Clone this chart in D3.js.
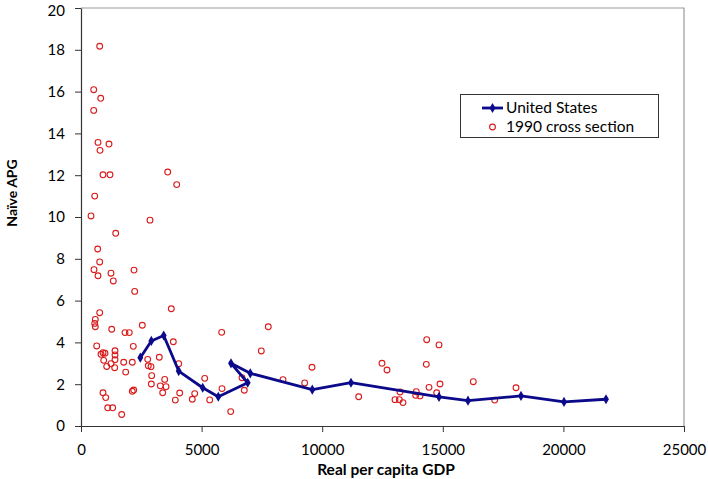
<!DOCTYPE html>
<html><head><meta charset="utf-8">
<script src="https://cdnjs.cloudflare.com/ajax/libs/d3/7.8.5/d3.min.js"></script>
<style>
html,body{margin:0;padding:0;background:#fff;}
text{font-family:Lato,"Open Sans",sans-serif;}
</style></head>
<body><svg id="chart" width="708" height="479"></svg>
<script>
// United States series (Real per capita GDP, Naive APG)
const usGDP = [2459, 2915, 3429, 4051, 5046, 5692, 6911, 6219, 7019, 9590, 11194, 14842, 16045, 18242, 20025, 21766];
const usAPG = [3.27, 4.07, 4.33, 2.63, 1.83, 1.40, 2.07, 3.00, 2.52, 1.74, 2.07, 1.39, 1.21, 1.44, 1.15, 1.28];

// 1990 cross section
const csGDP = [775, 527, 817, 527, 705, 1161, 788, 912, 1202, 3595, 3968, 568, 415, 2861, 1439, 692, 775, 539, 1244, 2197,
  705, 1339, 2226, 3744, 775, 593, 568, 593, 1273, 2541, 1824, 2002, 3827, 651, 2168, 829, 912, 995, 1410, 1410,
  941, 1410, 1244, 1066, 1397, 1770, 2127, 1853, 3246, 2765, 2790, 2902, 2931, 4051, 2915, 3470, 3524, 3288, 3387, 2127,
  2185, 912, 1024, 1107, 1314, 1687, 4092, 3910, 4614, 4714, 5129, 5336, 5833, 7765, 7475, 5846, 6206, 6675, 6770, 8375,
  9274, 9577, 12479, 12687, 14333, 14842, 14316, 14884, 14428, 14747, 13901, 13876, 14055, 13226, 13018, 13197, 13350, 11513, 16264, 17152,
  18035];
const csAPG = [18.17, 16.09, 15.68, 15.10, 13.57, 13.49, 13.19, 12.02, 12.02, 12.15, 11.55, 11.00, 10.05, 9.85, 9.22, 8.47, 7.85, 7.48, 7.31, 7.46,
  7.19, 6.94, 6.44, 5.61, 5.42, 5.10, 4.91, 4.75, 4.63, 4.82, 4.47, 4.47, 4.03, 3.83, 3.81, 3.43, 3.51, 3.48, 3.60, 3.40,
  3.14, 3.17, 2.98, 2.85, 2.79, 3.05, 3.05, 2.58, 3.29, 3.19, 2.88, 2.84, 2.41, 2.98, 2.01, 2.23, 1.88, 1.92, 1.59, 1.66,
  1.72, 1.59, 1.36, 0.87, 0.87, 0.55, 1.58, 1.24, 1.28, 1.55, 2.28, 1.25, 4.48, 4.75, 3.59, 1.79, 0.69, 2.31, 1.71, 2.22,
  2.06, 2.81, 3.00, 2.68, 4.13, 3.88, 2.95, 2.01, 1.85, 1.59, 1.64, 1.47, 1.44, 1.63, 1.26, 1.26, 1.12, 1.40, 2.12, 1.24,
  1.83];

const xTicks = [0, 5000, 10000, 15000, 20000, 25000];
const yTicks = [0, 2, 4, 6, 8, 10, 12, 14, 16, 18, 20];
const seriesNames = ["United States", "1990 cross section"];
const xTitle = "Real per capita GDP";
const yTitle = "Naïve APG";

const svg = d3.select("#chart");
const L = 81, R = 684, T = 8, B = 426;
const x = d3.scaleLinear().domain([0, 25000]).range([L, R]);
const y = d3.scaleLinear().domain([0, 20]).range([B, T]);

// plot frame (top & right)
svg.append("path").attr("d", `M${L},${T}H${R}V${B}`).attr("fill", "none").attr("stroke", "#9a9a9a").attr("stroke-width", 1.2);

const xAxis = svg.append("g").attr("transform", `translate(0,${B})`)
  .call(d3.axisBottom(x).tickValues(xTicks).tickFormat(d3.format("d")).tickSizeInner(6).tickSizeOuter(0).tickPadding(12));
const yAxis = svg.append("g").attr("transform", `translate(${L},0)`)
  .call(d3.axisLeft(y).tickValues(yTicks).tickFormat(d3.format("d")).tickSizeInner(6).tickSizeOuter(0).tickPadding(10));
[xAxis, yAxis].forEach(a => {
  a.select(".domain").attr("stroke", "#333").attr("stroke-width", 1.2);
  a.selectAll(".tick line").attr("stroke", "#333");
  a.selectAll("text").attr("font-size", 15).attr("fill", "#000").attr("font-family", "Lato, sans-serif");
});
yAxis.selectAll(".tick text").filter(d => d === 20).attr("dy", "0.38em").attr("y", 1.5);

// axis titles
svg.append("text").attr("x", 386).attr("y", 475).attr("text-anchor", "middle")
  .attr("font-size", 15.5).attr("font-weight", "bold").text(xTitle);
svg.append("text").attr("transform", `translate(17,193) rotate(-90)`).attr("text-anchor", "middle")
  .attr("font-size", 14).attr("font-weight", "bold").text(yTitle);

// scatter
const cs = csGDP.map((g, i) => ({g, a: csAPG[i]}));
svg.append("g").selectAll("circle").data(cs).join("circle")
  .attr("cx", d => x(d.g)).attr("cy", d => y(d.a)).attr("r", 2.9)
  .attr("fill", "none").attr("stroke", "#d91c1c").attr("stroke-width", 1.1);

// US line
const us = usGDP.map((g, i) => ({g, a: usAPG[i]}));
const navy = "#0a0a8a";
svg.append("path").datum(us)
  .attr("d", d3.line().x(d => x(d.g)).y(d => y(d.a)))
  .attr("fill", "none").attr("stroke", navy).attr("stroke-width", 2.8).attr("stroke-linejoin", "round");
const diamond = d3.symbol().type(d3.symbolDiamond).size(30);
svg.append("g").selectAll("path").data(us).join("path")
  .attr("transform", d => `translate(${x(d.g)},${y(d.a)})`).attr("d", diamond).attr("fill", navy);

// legend
const lg = svg.append("g");
lg.append("rect").attr("x", 460.5).attr("y", 94.5).attr("width", 198).attr("height", 43)
  .attr("fill", "#fff").attr("stroke", "#333").attr("stroke-width", 1);
lg.append("line").attr("x1", 482).attr("x2", 503).attr("y1", 108).attr("y2", 108).attr("stroke", navy).attr("stroke-width", 2.8);
lg.append("path").attr("transform", "translate(492.5,108)").attr("d", diamond).attr("fill", navy);
lg.append("text").attr("x", 506).attr("y", 113).attr("font-size", 15.5).text(seriesNames[0]);
lg.append("circle").attr("cx", 492.5).attr("cy", 127).attr("r", 2.9).attr("fill", "none").attr("stroke", "#d91c1c").attr("stroke-width", 1.1);
lg.append("text").attr("x", 506).attr("y", 132).attr("font-size", 15.5).text(seriesNames[1]);
</script></body></html>
